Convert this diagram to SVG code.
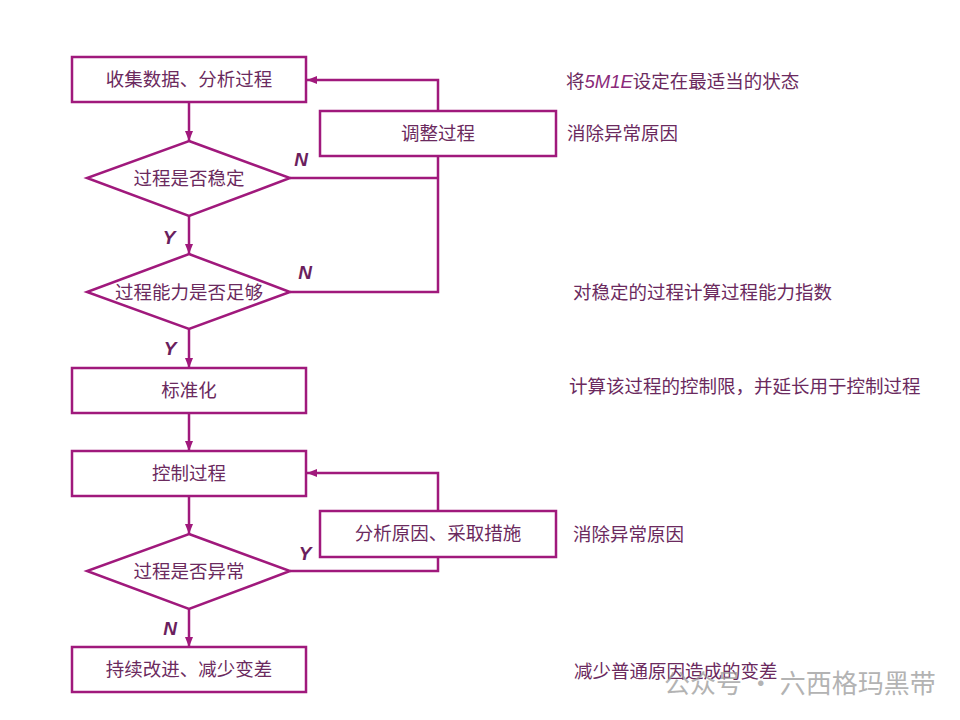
<svg xmlns="http://www.w3.org/2000/svg" width="960" height="720" viewBox="0 0 960 720">
<defs>
<marker id="arr" viewBox="0 0 10 10" refX="10" refY="5" markerWidth="4" markerHeight="4" orient="auto" markerUnits="strokeWidth">
<path d="M0,1 L10,5 L0,9 z" fill="#a0197c"/>
</marker>
<style>
.shape{fill:#fff;stroke:#a0197c;stroke-width:2.5}
.line{fill:none;stroke:#a0197c;stroke-width:2.5}
.t{font-family:"Liberation Serif","Noto Sans CJK SC",serif;font-size:18.5px;fill:#6b2a5e}
.c{text-anchor:middle}
.yn{font-family:"Liberation Sans",sans-serif;font-size:19px;font-style:italic;font-weight:bold;fill:#6b1f5e;text-anchor:middle}
.wm{font-family:"Noto Sans CJK SC",sans-serif;font-size:26px;fill:#9a9a9a;opacity:0.75}
</style>
</defs>
<rect width="960" height="720" fill="#fff"/>
<g id="connectors">
<path class="line" d="M189,102 V141" marker-end="url(#arr)"/>
<path class="line" d="M189,216 V254" marker-end="url(#arr)"/>
<path class="line" d="M189,329 V368" marker-end="url(#arr)"/>
<path class="line" d="M189,413 V451" marker-end="url(#arr)"/>
<path class="line" d="M189,496 V534" marker-end="url(#arr)"/>
<path class="line" d="M189,609 V647" marker-end="url(#arr)"/>
<path class="line" d="M290,178 H438"/>
<path class="line" d="M290,292 H438 V156"/>
<path class="line" d="M438,111 V80 H307" marker-end="url(#arr)"/>
<path class="line" d="M290,571 H438 V557"/>
<path class="line" d="M438,511 V473 H307" marker-end="url(#arr)"/>
<text class="yn" x="301" y="166">N</text>
<text class="yn" x="305" y="279">N</text>
<text class="yn" x="169" y="244">Y</text>
<text class="yn" x="170" y="355">Y</text>
<text class="yn" x="305" y="560">Y</text>
<text class="yn" x="170" y="635">N</text>
</g>
<g id="n1"><rect class="shape" x="72" y="57" width="234" height="45"/><text class="t c" x="189" y="86">收集数据、分析过程</text></g>
<g id="n2"><rect class="shape" x="320" y="111" width="236" height="45"/><text class="t c" x="438" y="140">调整过程</text></g>
<g id="n3"><polygon class="shape" points="189,141 290,178 189,216 87,178"/><text class="t c" x="189" y="185">过程是否稳定</text></g>
<g id="n4"><polygon class="shape" points="189,254 290,292 189,329 87,292"/><text class="t c" x="189" y="299">过程能力是否足够</text></g>
<g id="n5"><rect class="shape" x="72" y="368" width="234" height="45"/><text class="t c" x="189" y="397">标准化</text></g>
<g id="n6"><rect class="shape" x="72" y="451" width="234" height="45"/><text class="t c" x="189" y="480">控制过程</text></g>
<g id="n7"><rect class="shape" x="320" y="511" width="236" height="46"/><text class="t c" x="438" y="540">分析原因、采取措施</text></g>
<g id="n8"><polygon class="shape" points="189,534 290,571 189,609 87,571"/><text class="t c" x="189" y="578">过程是否异常</text></g>
<g id="n9"><rect class="shape" x="72" y="647" width="234" height="45"/><text class="t c" x="189" y="676">持续改进、减少变差</text></g>
<g id="notes">
<text class="t" x="566" y="88">将<tspan font-family="Liberation Sans,sans-serif" font-style="italic" fill="#8a2a7a">5M1E</tspan>设定在最适当的状态</text>
<text class="t" x="567" y="140">消除异常原因</text>
<text class="t" x="573" y="299">对稳定的过程计算过程能力指数</text>
<text class="t" x="569" y="393">计算该过程的控制限，并延长用于控制过程</text>
<text class="t" x="573" y="541">消除异常原因</text>
<text class="t" x="574" y="678">减少普通原因造成的变差</text>
<text class="wm" x="664" y="693">公众号 · 六西格玛黑带</text>
</g>
</svg>
